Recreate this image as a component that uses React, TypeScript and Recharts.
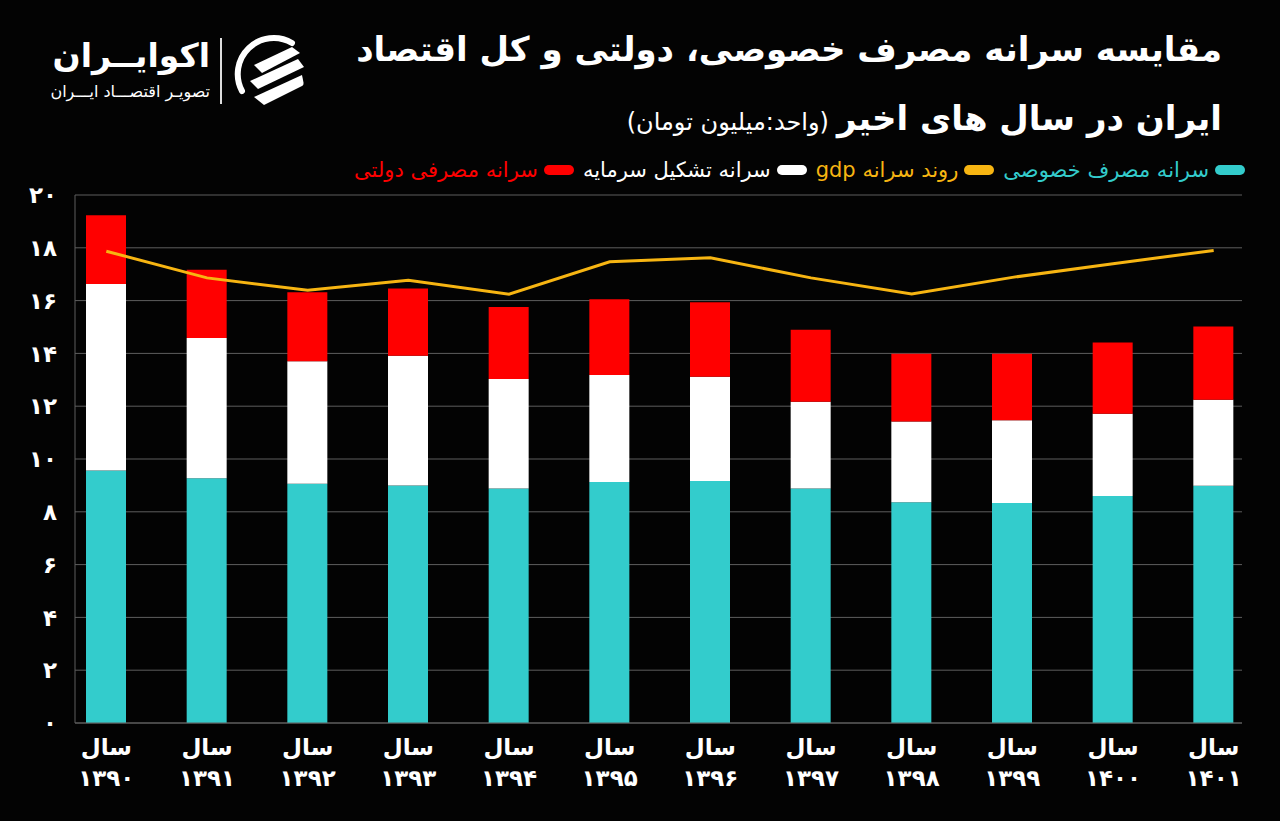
import { ComposedChart, Bar, Line, XAxis, YAxis, CartesianGrid } from "recharts";

const years = ["۱۳۹۰", "۱۳۹۱", "۱۳۹۲", "۱۳۹۳", "۱۳۹۴", "۱۳۹۵", "۱۳۹۶", "۱۳۹۷", "۱۳۹۸", "۱۳۹۹", "۱۴۰۰", "۱۴۰۱"];
// سرانه مصرف خصوصی
const privateCons = [9.56, 9.27, 9.06, 9.0, 8.88, 9.13, 9.17, 8.88, 8.36, 8.33, 8.6, 8.99];
// سرانه تشکیل سرمایه
const capitalForm = [7.07, 5.31, 4.64, 4.91, 4.15, 4.05, 3.95, 3.29, 3.06, 3.14, 3.11, 3.25];
// سرانه مصرفی دولتی
const govCons = [2.6, 2.59, 2.62, 2.55, 2.73, 2.87, 2.82, 2.73, 2.57, 2.52, 2.7, 2.78];
// روند سرانه gdp
const gdpTrend = [17.87, 16.86, 16.39, 16.77, 16.24, 17.47, 17.62, 16.86, 16.25, 16.88, 17.4, 17.9];
const yTicks = [0, 2, 4, 6, 8, 10, 12, 14, 16, 18, 20];

const data = years.map((year, i) => ({
  year,
  privateCons: privateCons[i],
  capitalForm: capitalForm[i],
  govCons: govCons[i],
  gdp: gdpTrend[i],
}));

const FONT = "'DejaVu Sans', sans-serif";
const CYAN = "#33cccc";
const YELLOW = "#f7b512";
const RED = "#ff0000";
const GRID = "#5e5e5e";

const toFa = (n: number | string) => String(n).replace(/\d/g, (d) => "۰۱۲۳۴۵۶۷۸۹"[Number(d)]);

const legendItems = [
  { label: "سرانه مصرف خصوصی", color: CYAN },
  { label: "روند سرانه gdp", color: YELLOW },
  { label: "سرانه تشکیل سرمایه", color: "#ffffff" },
  { label: "سرانه مصرفی دولتی", color: RED },
];

function YearTick(props: any) {
  const { x, y, payload } = props;
  return (
    <text x={x} y={y} textAnchor="middle" fill="#fff" fontSize={23} fontWeight="bold" fontFamily={FONT}>
      <tspan x={x} dy={24}>سال</tspan>
      <tspan x={x} dy={31}>{payload.value}</tspan>
    </text>
  );
}

function ChartLegend() {
  return (
    <div
      style={{
        position: "absolute",
        right: 35,
        top: 158,
        display: "flex",
        direction: "rtl",
        alignItems: "center",
        gap: 9,
        fontFamily: FONT,
        fontSize: 21,
      }}
    >
      {legendItems.map((it) => (
        <div key={it.label} style={{ display: "flex", alignItems: "center", gap: 6 }}>
          <span style={{ width: 30, height: 10, borderRadius: 5, background: it.color, display: "inline-block" }} />
          <span style={{ color: it.color, whiteSpace: "nowrap" }}>{it.label}</span>
        </div>
      ))}
    </div>
  );
}

function Logo() {
  return (
    <div style={{ position: "absolute", left: 40, top: 30, width: 280, height: 80 }}>
      <div
        style={{
          position: "absolute",
          right: 110,
          top: 6,
          direction: "rtl",
          color: "#fff",
          fontFamily: FONT,
          fontWeight: "bold",
          fontSize: 33,
          whiteSpace: "nowrap",
        }}
      >
        اکوایــران
      </div>
      <div
        style={{
          position: "absolute",
          right: 110,
          top: 52,
          direction: "rtl",
          color: "#fff",
          fontFamily: FONT,
          fontSize: 16,
          whiteSpace: "nowrap",
        }}
      >
        تصویـر اقتصـــاد ایـــران
      </div>
      <div style={{ position: "absolute", left: 180, top: 8, width: 1.5, height: 66, background: "#ddd" }} />
      <svg style={{ position: "absolute", left: 192, top: 3 }} width={76} height={76} viewBox="0 0 76 76">
        <defs>
          <clipPath id="logoClip">
            <circle cx={38} cy={38} r={36} />
          </clipPath>
        </defs>
        <path d="M 60 10 A 36 36 0 0 0 10 58" stroke="#fff" strokeWidth={6} fill="none" strokeLinecap="round" />
        <g clipPath="url(#logoClip)" fill="#fff">
          <path d="M 22 32 L 60 14 L 68 20 L 30 40 Z" />
          <path d="M 18 48 L 66 26 L 72 34 L 26 56 Z" />
          <path d="M 22 64 L 70 42 L 72 52 L 32 72 Z" />
        </g>
      </svg>
    </div>
  );
}

export default function App() {
  return (
    <div style={{ position: "absolute", left: 0, top: 0, width: 1280, height: 821, background: "#030303", overflow: "hidden" }}>
      <Logo />
      <div
        style={{
          position: "absolute",
          right: 58,
          top: 29,
          direction: "rtl",
          color: "#fff",
          fontFamily: FONT,
          fontWeight: "bold",
          fontSize: 34,
          whiteSpace: "nowrap",
        }}
      >
        مقایسه سرانه مصرف خصوصی، دولتی و کل اقتصاد
      </div>
      <div
        style={{
          position: "absolute",
          right: 58,
          top: 98,
          direction: "rtl",
          color: "#fff",
          fontFamily: FONT,
          whiteSpace: "nowrap",
          display: "flex",
          alignItems: "baseline",
          gap: 8,
        }}
      >
        <span style={{ fontWeight: "bold", fontSize: 34 }}>ایران در سال های اخیر</span>
        <span style={{ fontSize: 24 }}>(واحد:میلیون تومان)</span>
      </div>
      <ChartLegend />

      <ComposedChart
        width={1280}
        height={821}
        data={data}
        margin={{ top: 195, right: 38, bottom: 0, left: 0 }}
        barGap={0}
      >
        <CartesianGrid horizontal vertical={false} stroke={GRID} />
        <XAxis
          dataKey="year"
          padding={{ left: -19, right: -22 }}
          axisLine={{ stroke: GRID }}
          tickLine={false}
          interval={0}
          tick={<YearTick />}
          height={98}
        />
        <YAxis
          domain={[0, 20]}
          ticks={yTicks}
          width={75}
          axisLine={{ stroke: GRID }}
          tickLine={false}
          tickMargin={12}
          tickFormatter={(v) => toFa(v)}
          tick={{ fill: "#fff", fontSize: 23, fontWeight: "bold", fontFamily: FONT }}
        />
        <YAxis
          yAxisId="right"
          orientation="right"
          domain={[0, 20]}
          ticks={yTicks}
          width={0}
          axisLine={{ stroke: GRID }}
          tickLine={false}
          tick={false}
        />
        <Bar dataKey="privateCons" stackId="a" fill={CYAN} barSize={40} isAnimationActive={false} />
        <Bar dataKey="capitalForm" stackId="a" fill="#ffffff" barSize={40} isAnimationActive={false} />
        <Bar dataKey="govCons" stackId="a" fill={RED} barSize={40} isAnimationActive={false} />
        <Line
          type="linear"
          dataKey="gdp"
          stroke={YELLOW}
          strokeWidth={3}
          dot={false}
          activeDot={false}
          isAnimationActive={false}
        />
      </ComposedChart>
    </div>
  );
}
